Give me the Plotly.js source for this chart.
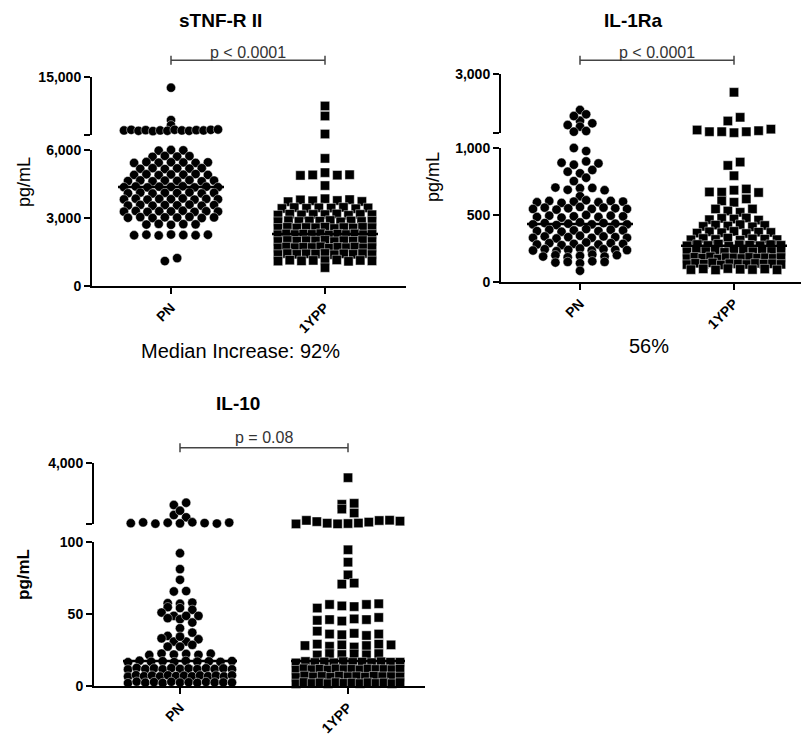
<!DOCTYPE html>
<html>
<head>
<meta charset="utf-8">
<script src="https://cdn.plot.ly/plotly-3.0.1.min.js"></script>
<style>
html,body{margin:0;padding:0;background:#fff;}
#chart{width:801px;height:738px;}
</style>
</head>
<body>
<div id="chart"></div>
<script>
// ---------------- DATA ----------------
const categories = ['PN', '1YPP'];
const panelTitles = ['sTNF-R II', 'IL-1Ra', 'IL-10'];
const pValueTexts = ['p < 0.0001', 'p < 0.0001', 'p = 0.08'];
const increaseNotes = ['Median Increase: 92%', '56%'];
const yUnit = 'pg/mL';

// sTNF-R II (pg/mL)
const tnfPN = [
  13300, 8300, 7500,
  6700, 6800, 6650, 6750, 6600, 6700, 6650, 6800, 6700, 6650, 6750, 6700, 6800, 6850,
  5970, 6000, 5985,
  5700, 5740, 5710, 5730,
  5430, 5470, 5440, 5460, 5450, 5430, 5455,
  5170, 5200, 5160, 5190, 5180, 5200,
  4900, 4930, 4890, 4920, 4910, 4940, 4900,
  4630, 4660, 4620, 4650, 4640, 4670, 4620, 4650,
  4360, 4390, 4350, 4380, 4370, 4400, 4350, 4380, 4360,
  4090, 4120, 4080, 4110, 4100, 4130, 4080, 4110,
  3820, 3850, 3810, 3840, 3830, 3860, 3810, 3840, 3825,
  3550, 3580, 3540, 3570, 3560, 3590, 3540, 3570,
  3280, 3310, 3270, 3300, 3290, 3320, 3270, 3300, 3285,
  3010, 3040, 3000, 3030, 3020, 3050, 3000, 3025,
  2710, 2740, 2700, 2730, 2720,
  2240, 2260, 2230, 2270, 2250, 2240, 2260,
  1100, 1230
];
const tnf1YPP = [
  10480, 8930, 6150,
  5630,
  4880, 4900, 5000, 4890, 4910,
  4430,
  3720, 3800, 3760, 3850, 3770, 3810, 3730,
  3420, 3460, 3430, 3450, 3440, 3470, 3410, 3445,
  3130, 3170, 3140, 3160, 3150, 3180, 3120, 3160, 3145,
  2840, 2880, 2850, 2870, 2860, 2890, 2830, 2870, 2850, 2865,
  2550, 2590, 2560, 2580, 2570, 2600, 2540, 2580, 2560, 2590, 2575,
  2260, 2300, 2270, 2290, 2280, 2310, 2250, 2290, 2270, 2300, 2260, 2280,
  1970, 2010, 1980, 2000, 1990, 2020, 1960, 2000, 1980, 2010, 1970,
  1680, 1720, 1690, 1710, 1700, 1730, 1670, 1710, 1690, 1720, 1680, 1700,
  1390, 1430, 1400, 1420, 1410, 1440, 1380, 1420, 1400, 1430, 1390,
  1100, 1140, 1110, 1130, 1120, 1150, 1090, 1130, 1110,
  810
];
// IL-1Ra (pg/mL)
const il1raPN = [
  1780, 1417, 1271, 1576, 1634, 1214, 1329, 1044, 1068,
  1000, 977,
  890, 875, 900, 885,
  823, 811, 836,
  753, 778,
  705, 688, 700, 702, 685,
  640,
  595, 605, 590, 600, 610, 595, 605, 600,
  545, 555, 540, 550, 560, 545, 555, 550, 545,
  485, 495, 480, 490, 500, 485, 495, 490,
  430, 440, 425, 435, 445, 430, 440, 435, 430,
  380, 390, 375, 385, 395, 380, 390, 385,
  330, 340, 325, 335, 345, 330, 340, 335, 330,
  280, 290, 275, 285, 295, 280, 290, 285,
  235, 245, 230, 240, 250, 235, 245, 240, 238,
  190, 200, 185, 195, 205, 190, 200,
  145, 150, 140, 155, 150,
  84
];
const il1ra1YPP = [
  2380, 1407, 1532,
  1102, 1044, 1044, 1010, 1044, 1078, 1130,
  870, 895,
  793,
  672, 670, 685, 694, 668,
  605, 595, 620,
  545, 530, 520, 545,
  465, 475, 470, 478, 462,
  415, 425, 418, 428, 412, 422,
  365, 375, 368, 378, 362, 372, 370,
  315, 325, 318, 328, 312, 322, 320, 316,
  270, 280, 273, 283, 267, 277, 275, 271, 279, 274,
  225, 235, 228, 238, 222, 232, 230, 226, 234, 229, 231,
  175, 185, 178, 188, 172, 182, 180, 176, 184, 179, 181, 177, 183,
  130, 140, 133, 143, 127, 137, 135, 131, 139, 134, 136, 132,
  92, 98, 90, 100, 95, 93, 97, 91
];
// IL-10 (pg/mL)
const il10PN = [
  1308, 1453, 672, 945, 526,
  150, 200, 120, 180, 140, 210, 160, 130, 190,
  92, 81, 73.6, 65.5, 65.8,
  57.4, 57, 57.8, 54.6, 54, 52.8, 50.9,
  48.6, 47, 46.3, 48.6, 48.6, 44, 40,
  34.7, 33, 30.8, 30.8, 32.4, 34.2, 37,
  27.3, 27.3, 28.5,
  21.5, 22.5, 21.8, 22.2, 21.6, 22.4,
  16.5, 17.5, 16.8, 17.2, 16.6, 17.4, 16.9, 17.1, 16.7, 17.3,
  11.5, 12.5, 11.8, 12.2, 11.6, 12.4, 11.9, 12.1, 11.7, 12.3, 11.8, 12.2, 11.6,
  6.5, 7.5, 6.8, 7.2, 6.6, 7.4, 6.9, 7.1, 6.7, 7.3, 6.8, 7.2, 6.6, 7.4,
  2, 3, 2.3, 2.7, 2.1, 2.9, 2.4, 2.6, 2.2, 2.8, 2.5, 2.5, 2.4
];
const il101YPP = [
  3045, 1353, 1416, 1050, 800,
  105, 330, 250, 150, 110, 130, 160, 220, 320, 340, 280,
  94.4, 85.8, 77, 70.6, 71.3,
  54, 56.5, 55.5, 55, 56.5, 57,
  45.5, 46, 45, 46.5, 46, 47.5,
  38, 36, 35.5, 36.5, 35, 36,
  28, 29, 27.5, 28.5, 27, 28, 29, 28.5,
  21.5, 22.5, 21.8, 22.2, 21.6, 22.4,
  16, 17, 16.3, 16.7, 16.1, 16.9, 16.4, 16.6, 16.2, 16.8, 16.5, 16.5,
  11, 12, 11.3, 11.7, 11.1, 11.9, 11.4, 11.6, 11.2, 11.8, 11.5, 11.5, 11.3, 11.7,
  6, 7, 6.3, 6.7, 6.1, 6.9, 6.4, 6.6, 6.2, 6.8, 6.5, 6.5, 6.3,
  1.5, 2.5, 1.8, 2.2, 1.6, 2.4, 1.9, 2.1, 1.7, 2.3, 1.8, 2.2, 1.6, 2.4
];

const tnfMedians = [4370, 2294];
const il1raMedians = [433, 271];
const il10Medians = [17.4, 17.4];

// axis segments (broken axes): lower and upper ranges, ticks and labels
const tnfLowRange = [0, 6000], tnfHighRange = [6000, 15000];
const tnfLowTicks = [0, 3000, 6000], tnfLowLabels = ['0', '3,000', '6,000'];
const tnfHighTicks = [6000, 15000], tnfHighLabels = ['', '15,000'];
const il1raLowRange = [0, 1000], il1raHighRange = [1000, 3000];
const il1raLowTicks = [0, 500, 1000], il1raLowLabels = ['0', '500', '1,000'];
const il1raHighTicks = [1000, 3000], il1raHighLabels = ['', '3,000'];
const il10LowRange = [0, 100], il10HighRange = [100, 4000];
const il10LowTicks = [0, 50, 100], il10LowLabels = ['0', '50', '100'];
const il10HighTicks = [100, 4000], il10HighLabels = ['', '4,000'];

// ---------------- LAYOUT / STYLE ----------------
const W = 801, H = 738;
const FONT = 'Liberation Sans, Arial, Helvetica, sans-serif';
const BIN_PX = 4.5;      // vertical size of a swarm row in pixels
const STEP_PX = 12.3;    // horizontal spacing of points in a row
const px2x = p => p / W;
const py2y = p => 1 - p / H;

const panels = [
  { xId: 'x', yLo: 'y', yHi: 'y2', xL: 92, xR: 406, c0: 171, c1: 325,
    loBot: 286, loTop: 150, hiBot: 135, hiTop: 76.7, halfW: 47, medHalf: 53,
    bracketY: 60.3, pGap: 2.5, titleX: 220, titleY: 21, yTitleX: 24, yTitleY: 182, yTitleBold: false,
    data: [tnfPN, tnf1YPP], medians: tnfMedians,
    lowRange: tnfLowRange, highRange: tnfHighRange,
    lowTicks: tnfLowTicks, lowLabels: tnfLowLabels, highTicks: tnfHighTicks, highLabels: tnfHighLabels },
  { xId: 'x2', yLo: 'y3', yHi: 'y4', xL: 501, xR: 801, c0: 580, c1: 734,
    loBot: 282, loTop: 148, hiBot: 133, hiTop: 74, halfW: 47, medHalf: 53,
    bracketY: 60.3, pGap: 2.5, titleX: 633, titleY: 20, yTitleX: 433, yTitleY: 177, yTitleBold: false,
    data: [il1raPN, il1ra1YPP], medians: il1raMedians,
    lowRange: il1raLowRange, highRange: il1raHighRange,
    lowTicks: il1raLowTicks, lowLabels: il1raLowLabels, highTicks: il1raHighTicks, highLabels: il1raHighLabels },
  { xId: 'x3', yLo: 'y5', yHi: 'y6', xL: 94, xR: 425, c0: 180, c1: 348,
    loBot: 686, loTop: 541.7, hiBot: 524, hiTop: 462.7, halfW: 52, medHalf: 57,
    bracketY: 447.7, pGap: 0.5, titleX: 238, titleY: 403, yTitleX: 23, yTitleY: 575, yTitleBold: true,
    data: [il10PN, il101YPP], medians: il10Medians,
    lowRange: il10LowRange, highRange: il10HighRange,
    lowTicks: il10LowTicks, lowLabels: il10LowLabels, highTicks: il10HighTicks, highLabels: il10HighLabels }
];

// beeswarm-like row layout: group values into pixel rows, spread each row horizontally
function swarmOffsets(values, pxPerUnit, maxHalf) {
  const idx = values.map((v, i) => i).sort((a, b) => (values[a] - values[b]) || (a - b));
  const offs = new Array(values.length).fill(0);
  let i = 0;
  while (i < idx.length) {
    const start = values[idx[i]];
    const row = [];
    while (i < idx.length && (values[idx[i]] - start) * pxPerUnit < BIN_PX) { row.push(idx[i]); i++; }
    row.sort((a, b) => a - b);
    const n = row.length;
    let s = STEP_PX;
    if (n > 1 && (n - 1) * s > 2 * maxHalf) s = 2 * maxHalf / (n - 1);
    row.forEach((k, j) => { offs[k] = (j - (n - 1) / 2) * s; });
  }
  return offs;
}

const axName = id => (id[0] === 'x' ? 'xaxis' : 'yaxis') + id.slice(1);
const traces = [];
const layout = {
  width: W, height: H,
  margin: { l: 0, r: 0, t: 0, b: 0 },
  paper_bgcolor: '#fff', plot_bgcolor: 'rgba(0,0,0,0)',
  showlegend: false, hovermode: false,
  annotations: [], shapes: []
};

const tickFont = { family: FONT, size: 14, color: '#000', weight: 'bold' };

panels.forEach((P, pi) => {
  const unitPx = P.c1 - P.c0;
  const xRange = [-(P.c0 - P.xL) / unitPx, 1 + (P.xR - P.c1) / unitPx];
  layout[axName(P.xId)] = {
    domain: [px2x(P.xL), px2x(P.xR)], range: xRange, anchor: P.yLo,
    tickvals: [0, 1], ticktext: categories, tickangle: -45,
    showline: true, linewidth: 2, linecolor: '#000',
    ticks: 'outside', ticklen: 6, tickwidth: 2, tickcolor: '#000',
    showgrid: false, zeroline: false, tickfont: tickFont, fixedrange: true
  };
  const yCommon = {
    anchor: P.xId, showline: true, linewidth: 2, linecolor: '#000',
    ticks: 'outside', ticklen: 6, tickwidth: 2, tickcolor: '#000',
    showgrid: false, zeroline: false, tickfont: tickFont, fixedrange: true
  };
  layout[axName(P.yLo)] = Object.assign({}, yCommon, {
    domain: [py2y(P.loBot), py2y(P.loTop)], range: P.lowRange,
    tickvals: P.lowTicks, ticktext: P.lowLabels
  });
  layout[axName(P.yHi)] = Object.assign({}, yCommon, {
    domain: [py2y(P.hiBot), py2y(P.hiTop)], range: P.highRange,
    tickvals: P.highTicks, ticktext: P.highLabels
  });

  const loPx = (P.loBot - P.loTop) / (P.lowRange[1] - P.lowRange[0]);
  const hiPx = (P.hiBot - P.hiTop) / (P.highRange[1] - P.highRange[0]);
  const brk = P.lowRange[1];

  P.data.forEach((vals, gi) => {
    const symbol = gi === 0 ? 'circle' : 'square';
    const segs = [
      { v: vals.filter(v => v <= brk), ax: P.yLo, ppu: loPx },
      { v: vals.filter(v => v > brk), ax: P.yHi, ppu: hiPx }
    ];
    segs.forEach(sg => {
      const offs = swarmOffsets(sg.v, sg.ppu, P.halfW);
      traces.push({
        type: 'scatter', mode: 'markers',
        x: offs.map(o => gi + o / unitPx), y: sg.v,
        xaxis: P.xId, yaxis: sg.ax, cliponaxis: false, hoverinfo: 'skip',
        marker: { symbol: symbol, size: 9.3, color: '#000', line: { color: '#fff', width: 0.45 } }
      });
    });
  });
  // median bars
  P.medians.forEach((m, gi) => {
    const hw = P.medHalf / unitPx;
    traces.push({
      type: 'scatter', mode: 'lines', x: [gi - hw, gi + hw], y: [m, m],
      xaxis: P.xId, yaxis: P.yLo, cliponaxis: false, hoverinfo: 'skip',
      line: { color: '#000', width: 2.5 }
    });
  });

  // p-value bracket
  const bc = '#444';
  layout.shapes.push(
    { type: 'line', xref: P.xId, yref: 'paper', x0: 0, x1: 1, y0: py2y(P.bracketY), y1: py2y(P.bracketY), line: { color: bc, width: 1.5 } },
    { type: 'line', xref: P.xId, yref: 'paper', x0: 0, x1: 0, y0: py2y(P.bracketY - 4.5), y1: py2y(P.bracketY + 4.5), line: { color: bc, width: 1.5 } },
    { type: 'line', xref: P.xId, yref: 'paper', x0: 1, x1: 1, y0: py2y(P.bracketY - 4.5), y1: py2y(P.bracketY + 4.5), line: { color: bc, width: 1.5 } }
  );
  layout.annotations.push({
    text: pValueTexts[pi], xref: P.xId, yref: 'paper', x: 0.5, y: py2y(P.bracketY + P.pGap),
    xanchor: 'center', yanchor: 'bottom', showarrow: false,
    font: { family: FONT, size: 16, color: '#333' }
  });
  // title
  layout.annotations.push({
    text: panelTitles[pi], xref: 'paper', yref: 'paper', x: px2x(P.titleX), y: py2y(P.titleY),
    xanchor: 'center', yanchor: 'middle', showarrow: false,
    font: { family: FONT, size: 19, color: '#000', weight: 'bold' }
  });
  // y unit title
  layout.annotations.push({
    text: yUnit, xref: 'paper', yref: 'paper', x: px2x(P.yTitleX), y: py2y(P.yTitleY),
    xanchor: 'center', yanchor: 'middle', showarrow: false, textangle: -90,
    font: { family: FONT, size: P.yTitleBold ? 17 : 18, color: '#000', weight: P.yTitleBold ? 'bold' : 'normal' }
  });
});

// increase notes under the top panels
const notePos = [[240, 351], [649, 346]];
increaseNotes.forEach((t, i) => {
  layout.annotations.push({
    text: t, xref: 'paper', yref: 'paper', x: px2x(notePos[i][0]), y: py2y(notePos[i][1]),
    xanchor: 'center', yanchor: 'middle', showarrow: false,
    font: { family: FONT, size: 20, color: '#000' }
  });
});

Plotly.newPlot('chart', traces, layout, { staticPlot: true, displayModeBar: false });
</script>
</body>
</html>
